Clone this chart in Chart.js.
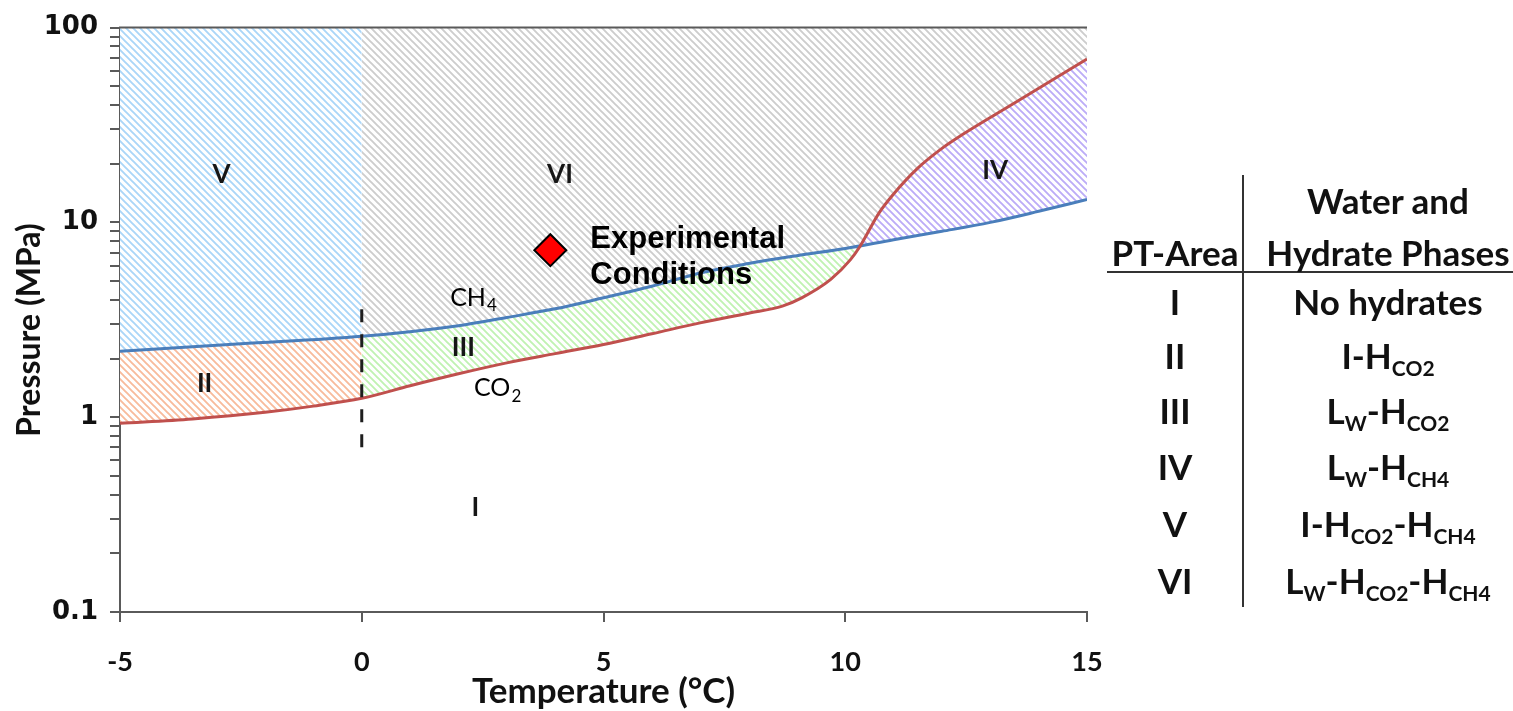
<!DOCTYPE html>
<html>
<head>
<meta charset="utf-8">
<script src="https://cdn.jsdelivr.net/npm/chart.js@4.4.1/dist/chart.umd.min.js"></script>
<style>
  html, body { margin: 0; padding: 0; background: #fff; }
  #wrap { position: relative; width: 1513px; height: 711px; overflow: hidden; }
  #chart { position: absolute; left: 0; top: 0; width: 1513px; height: 711px; }
  .cell { position: absolute; width: 340px; margin-left: -170px; text-align: center;
          font-family: Lato, "Open Sans", sans-serif; font-weight: bold; font-size: 35px;
          line-height: 44px; margin-top: -22px; color: #111; white-space: nowrap; }
  .cell sub { font-size: 0.6em; vertical-align: -0.32em; line-height: 0; }
  .rule { position: absolute; background: #333; }
</style>
</head>
<body>
<div id="wrap">
  <canvas id="chart" width="1513" height="711"></canvas>
</div>
<script>
// Hydrate equilibrium curves (temperature in °C, pressure in MPa)
const co2Temp = [-5, -3.5, -2, -1, 0, 1, 2, 3, 4, 5, 6, 7, 8, 8.7, 9.1, 9.7, 10.1, 10.3, 10.7, 11, 11.5, 12, 12.4, 13.5, 15];
const co2Pressure = [0.93, 0.98, 1.06, 1.14, 1.25, 1.45, 1.67, 1.9, 2.12, 2.36, 2.68, 3.05, 3.42, 3.72, 4.1, 5.1, 6.4, 7.5, 11.2, 14, 19, 24, 28, 41, 69];

const ch4Temp = [-5, -2.5, 0, 2, 3, 4, 5, 6, 7, 8, 9, 10, 11, 12, 13, 14, 15];
const ch4Pressure = [2.18, 2.38, 2.6, 2.95, 3.25, 3.6, 4.1, 4.7, 5.5, 6.15, 6.75, 7.35, 8.15, 9.0, 10.0, 11.4, 13.1];

// Experimental conditions
const expTemp = [3.9];
const expPressure = [7.2];

// Ice / liquid water boundary marker (dashed line at 0 °C)
const iceLineTemp = [0, 0];
const iceLinePressure = [0.7, 3.7];

// Axis ticks
const xTickValues = [-5, 0, 5, 10, 15];
const yDecades = [0.1, 1, 10];
const yLabelValues = [0.1, 1, 10, 100];

// Phase table
const areaNames = ['I', 'II', 'III', 'IV', 'V', 'VI'];
const phaseNames = [
  'No hydrates',
  'I-H<sub>CO2</sub>',
  'L<sub>W</sub>-H<sub>CO2</sub>',
  'L<sub>W</sub>-H<sub>CH4</sub>',
  'I-H<sub>CO2</sub>-H<sub>CH4</sub>',
  'L<sub>W</sub>-H<sub>CO2</sub>-H<sub>CH4</sub>'
];

// ---------------------------------------------------------------
const toPoints = (xs, ys) => xs.map((x, i) => ({ x, y: ys[i] }));
const co2Pts = toPoints(co2Temp, co2Pressure);
const ch4Pts = toPoints(ch4Temp, ch4Pressure);
const belowZero = pts => pts.filter(p => p.x <= 0);
const aboveZero = pts => pts.filter(p => p.x >= 0);

const yTickValues = [];
yDecades.forEach(d => { for (let m = 1; m <= 9; m++) yTickValues.push(+(m * d).toPrecision(3)); });
yTickValues.push(100);

function hatch(color) {
  const p = 7;
  const c = document.createElement('canvas');
  c.width = p; c.height = p;
  const g = c.getContext('2d');
  g.fillStyle = '#ffffff';
  g.fillRect(0, 0, p, p);
  g.strokeStyle = color;
  g.lineWidth = 1.9;
  g.beginPath();
  g.moveTo(-1, -1); g.lineTo(p + 1, p + 1);
  g.moveTo(-1, p - 1); g.lineTo(1, p + 1);
  g.moveTo(p - 1, -1); g.lineTo(p + 1, 1);
  g.stroke();
  return g.createPattern(c, 'repeat');
}

const regionStyle = { borderWidth: 0, borderColor: 'rgba(0,0,0,0)', pointRadius: 0, cubicInterpolationMode: 'monotone' };

const regionLabels = [
  { text: 'V', t: -2.9, p: 17.5 },
  { text: 'VI', t: 4.1, p: 17.5 },
  { text: 'IV', t: 13.1, p: 18.5 },
  { text: 'II', t: -3.25, p: 1.48 },
  { text: 'III', t: 2.1, p: 2.28 },
  { text: 'I', t: 2.35, p: 0.345 }
];

const annotations = {
  id: 'annotations',
  afterDraw(chart) {
    const { ctx, chartArea: a, scales: { x, y } } = chart;
    ctx.save();
    // top frame line
    ctx.strokeStyle = '#5a5a5a';
    ctx.lineWidth = 2;
    ctx.beginPath();
    ctx.moveTo(a.left - 1, a.top);
    ctx.lineTo(a.right, a.top);
    ctx.stroke();

    ctx.fillStyle = '#161616';
    ctx.textAlign = 'center';
    ctx.textBaseline = 'middle';
    ctx.font = 'bold 26px Lato, sans-serif';
    regionLabels.forEach(l => ctx.fillText(l.text, x.getPixelForValue(l.t), y.getPixelForValue(l.p)));

    // gas labels with subscripts
    const chem = (main, sub, t, p) => {
      ctx.font = '25px Lato, sans-serif';
      const w1 = ctx.measureText(main).width;
      ctx.font = '17px Lato, sans-serif';
      const w2 = ctx.measureText(sub).width;
      const cx = x.getPixelForValue(t), cy = y.getPixelForValue(p);
      const left = cx - (w1 + w2) / 2;
      ctx.fillStyle = '#000';
      ctx.textAlign = 'left';
      ctx.font = '25px Lato, sans-serif';
      ctx.fillText(main, left, cy);
      ctx.font = '17px Lato, sans-serif';
      ctx.fillText(sub, left + w1 + 1, cy + 8);
    };
    chem('CH', '4', 2.3, 4.1);
    chem('CO', '2', 2.8, 1.41);

    // experimental conditions text next to the marker
    const ex = x.getPixelForValue(expTemp[0]);
    const ey = y.getPixelForValue(expPressure[0]);
    ctx.textAlign = 'left';
    ctx.font = 'bold 31px "Liberation Sans", Arial, sans-serif';
    ctx.fillStyle = '#000';
    ctx.fillText('Experimental', ex + 40, ey - 11);
    ctx.fillText('Conditions', ex + 40, ey + 25);

    // axis titles
    ctx.fillStyle = '#111';
    ctx.textAlign = 'center';
    ctx.font = 'bold 35px Lato, sans-serif';
    ctx.fillText('Temperature (°C)', (a.left + a.right) / 2, 692);
    ctx.translate(30, 330);
    ctx.rotate(-Math.PI / 2);
    ctx.font = 'bold 32px Lato, sans-serif';
    ctx.fillText('Pressure (MPa)', 0, 0);
    ctx.restore();
  }
};

const axisColor = '#5a5a5a';

new Chart(document.getElementById('chart'), {
  type: 'line',
  data: {
    datasets: [
      { label: 'V', data: belowZero(ch4Pts), backgroundColor: hatch('#aad6f8'), fill: 'end', order: 20, ...regionStyle },
      { label: 'VI', data: aboveZero(ch4Pts), backgroundColor: hatch('#cdcdcd'), fill: 'end', order: 20, ...regionStyle },
      { label: 'II', data: belowZero(co2Pts), fill: { target: 0, above: hatch('#f8bb9c'), below: hatch('#f8bb9c') }, order: 15, ...regionStyle },
      { label: 'III-IV', data: aboveZero(co2Pts), fill: { target: 1, above: hatch('#bcacf7'), below: hatch('#c0f2b2') }, order: 15, ...regionStyle },
      { label: 'CO2', data: co2Pts, borderColor: '#c0504d', borderWidth: 3, pointRadius: 0, fill: false, cubicInterpolationMode: 'monotone', order: 2 },
      { label: 'CH4', data: ch4Pts, borderColor: '#4a7ebb', borderWidth: 3, pointRadius: 0, fill: false, cubicInterpolationMode: 'monotone', order: 2 },
      { label: 'ice', data: toPoints(iceLineTemp, iceLinePressure), borderColor: '#1e1e1e', borderWidth: 3, borderDash: [13, 12], pointRadius: 0, fill: false, tension: 0, order: 1 },
      { label: 'Experimental Conditions', data: toPoints(expTemp, expPressure), showLine: false, pointStyle: 'rectRot', pointRadius: 16, pointBackgroundColor: '#ff0000', pointBorderColor: '#000', pointBorderWidth: 2, order: 0 }
    ]
  },
  options: {
    responsive: false,
    animation: false,
    events: [],
    layout: { padding: { left: 0, top: 22, right: 426, bottom: 0 } },
    plugins: { legend: { display: false }, tooltip: { enabled: false } },
    scales: {
      x: {
        type: 'linear', min: -5, max: 15,
        afterBuildTicks: s => { s.ticks = xTickValues.map(v => ({ value: v })); },
        afterFit: s => { s.height = 99; },
        border: { display: true, color: axisColor, width: 2 },
        grid: { drawOnChartArea: false, drawTicks: true, tickLength: 10, color: axisColor, lineWidth: 2 },
        ticks: { font: { family: 'Lato', weight: 'bold', size: 27 }, color: '#111', padding: 24, maxRotation: 0, autoSkip: false }
      },
      y: {
        type: 'logarithmic', min: 0.1, max: 100,
        afterBuildTicks: s => { s.ticks = yTickValues.map(v => ({ value: v })); },
        afterFit: s => { s.width = 120; },
        border: { display: true, color: axisColor, width: 2 },
        grid: { drawOnChartArea: false, drawTicks: true, tickLength: 10, color: axisColor, lineWidth: 2 },
        ticks: {
          autoSkip: false,
          font: { family: 'DejaVu Sans', weight: 'bold', size: 26 }, color: '#111', padding: 12,
          callback: v => (yLabelValues.includes(v) ? String(v) : '')
        }
      }
    }
  },
  plugins: [annotations]
});

// Phase table beside the chart
const wrap = document.getElementById('wrap');
function cell(html, cx, cy) {
  const d = document.createElement('div');
  d.className = 'cell';
  d.style.left = cx + 'px';
  d.style.top = cy + 'px';
  d.innerHTML = html;
  wrap.appendChild(d);
}
function rule(l, t, w, h) {
  const d = document.createElement('div');
  d.className = 'rule';
  Object.assign(d.style, { left: l + 'px', top: t + 'px', width: w + 'px', height: h + 'px' });
  wrap.appendChild(d);
}
rule(1242, 175, 2, 432);
rule(1107, 271, 406, 2);
cell('Water and', 1388, 200);
cell('PT-Area', 1175, 252);
cell('Hydrate Phases', 1388, 252);
const rowY = [301, 355, 410, 466, 523, 580];
areaNames.forEach((n, i) => {
  cell(n, 1175, rowY[i]);
  cell(phaseNames[i], 1388, rowY[i]);
});
</script>
</body>
</html>
